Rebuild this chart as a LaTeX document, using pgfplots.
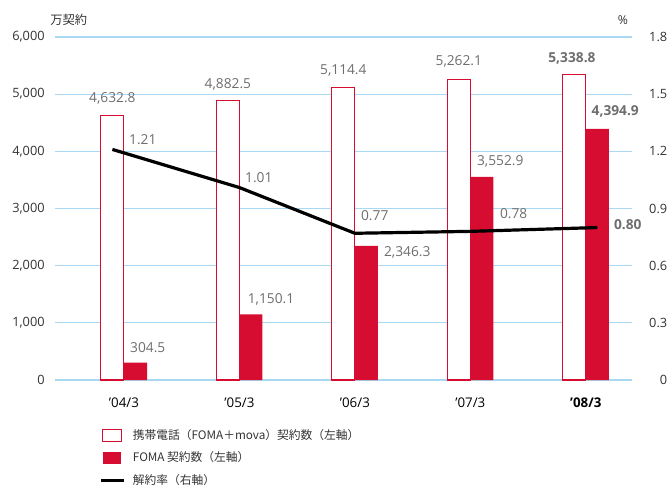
\documentclass[border=0pt]{standalone}
\usepackage{fontspec}
\setmainfont{Open Sans}
\newfontfamily\jp{Noto Sans CJK JP}
\usepackage{pgfplots}
\pgfplotsset{compat=1.18}
\definecolor{dred}{HTML}{D60C30}
\definecolor{gridblue}{HTML}{A9D9F2}
\definecolor{lblgray}{HTML}{6E6E6E}
\definecolor{tickc}{HTML}{333333}
\tikzset{lbl/.style={inner sep=0pt, text=lblgray, font=\fontsize{10.3}{12}\selectfont}}
\tikzset{blbl/.style={inner sep=0pt, text=lblgray, font=\bfseries\fontsize{10.3}{12}\selectfont}}
\pgfplotsset{
  whitebox/.style={legend image code/.code={\draw[dred, line width=0.8pt, fill=white] (0pt,-4.5pt) rectangle (14pt,4.5pt);}},
  redbox/.style={legend image code/.code={\fill[dred] (0pt,-4.5pt) rectangle (14pt,4.5pt);}},
  blackline/.style={legend image code/.code={\draw[black, line width=2.4pt] (-1pt,0pt) -- (16pt,0pt);}},
}
\begin{document}
\begin{tikzpicture}
\useasboundingbox (-41.25pt,-80.25pt) rectangle (462.75pt,285pt);
\begin{axis}[
  at={(0,0)}, anchor=south west,
  scale only axis, width=432.75pt, height=257.25pt,
  xmin=-0.597, xmax=4.40, ymin=0, ymax=6000,
  axis line style={draw=none},
  major tick length=0pt,
  ymajorgrids, grid style={gridblue, line width=0.9pt},
  xtick={0,1,2,3,4},
  xticklabels={’04/3,’05/3,’06/3,’07/3,\textbf{’08/3}},
  ytick={0,1000,2000,3000,4000,5000,6000},
  /pgf/number format/1000 sep={,},
  /pgf/number format/assume math mode=true,
  tick label style={font=\fontsize{9.6}{11}\selectfont, text=tickc},
  yticklabel style={anchor=east, xshift=-4.2pt},
  xticklabel style={yshift=-10pt, text=black, font=\fontsize{10}{11}\selectfont},
  clip=false,
  legend cell align=left,
  legend style={at={(axis description cs:0.077,-0.135)}, anchor=north west,
    draw=none, fill=none, font=\jp\fontsize{8.8}{10}\selectfont, text=tickc,
    row sep=4pt, inner sep=0pt,
    /tikz/every odd column/.append style={column sep=3.5pt}},
]
\addplot[ybar, bar width=0.2, bar shift=0pt, draw=dred, fill=white, line width=0.8pt, whitebox]
  coordinates {(-0.1,4632.8) (0.9,4882.5) (1.9,5114.4) (2.9,5262.1) (3.9,5338.8)};
\addlegendentry{携帯電話（FOMA＋mova）契約数（左軸）}
\addplot[ybar, bar width=0.2, bar shift=0pt, draw=none, fill=dred, redbox]
  coordinates {(0.1,304.5) (1.1,1150.1) (2.1,2346.3) (3.1,3552.9) (4.1,4394.9)};
\addlegendentry{FOMA 契約数（左軸）}
\addlegendimage{blackline}
\addlegendentry{解約率（右軸）}
% total labels
\node[lbl] at (axis cs:-0.1,4933) {4,632.8};
\node[lbl] at (axis cs:0.9,5178) {4,882.5};
\node[lbl] at (axis cs:1.9,5423) {5,114.4};
\node[lbl] at (axis cs:2.9,5580) {5,262.1};
\node[blbl] at (axis cs:3.88,5632) {5,338.8};
% FOMA labels
\node[lbl, anchor=west] at (axis cs:0.052,560) {304.5};
\node[lbl, anchor=west] at (axis cs:1.071,1417) {1,150.1};
\node[lbl, anchor=west] at (axis cs:2.251,2227) {2,346.3};
\node[lbl, anchor=west] at (axis cs:3.056,3831) {3,552.9};
\node[blbl, anchor=west] at (axis cs:4.049,4705) {4,394.9};
% churn labels
\node[lbl, anchor=west] at (axis cs:0.043,4198) {1.21};
\node[lbl, anchor=west] at (axis cs:1.048,3539) {1.01};
\node[lbl, anchor=west] at (axis cs:2.052,2869) {0.77};
\node[lbl, anchor=west] at (axis cs:3.255,2904) {0.78};
\node[blbl, anchor=west] at (axis cs:4.242,2711) {0.80};
\end{axis}
\begin{axis}[
  at={(0,0)}, anchor=south west,
  scale only axis, width=432.75pt, height=257.25pt,
  xmin=-0.597, xmax=4.40, ymin=0, ymax=1.8,
  axis x line=none, axis y line*=right,
  axis line style={draw=none},
  major tick length=0pt,
  ytick={0,0.3,0.6,0.9,1.2,1.5,1.8},
  yticklabels={0,0.3,0.6,0.9,1.2,1.5,1.8},
  tick label style={font=\fontsize{9.6}{11}\selectfont, text=tickc},
  yticklabel style={anchor=east, xshift=30pt},
  clip=false,
]
\addplot[black, line width=2.4pt] coordinates {(-0.1,1.21) (1,1.01) (2,0.77) (3,0.78) (4.1,0.80)};
\end{axis}
\node[anchor=west, inner sep=0pt, font=\jp\fontsize{9.2}{11}\selectfont, text=tickc] at (-3.75pt,270pt) {万契約};
\node[inner sep=0pt, font=\fontsize{9.2}{11}\selectfont, text=tickc] at (426pt,270pt) {\%};
\end{tikzpicture}
\end{document}
